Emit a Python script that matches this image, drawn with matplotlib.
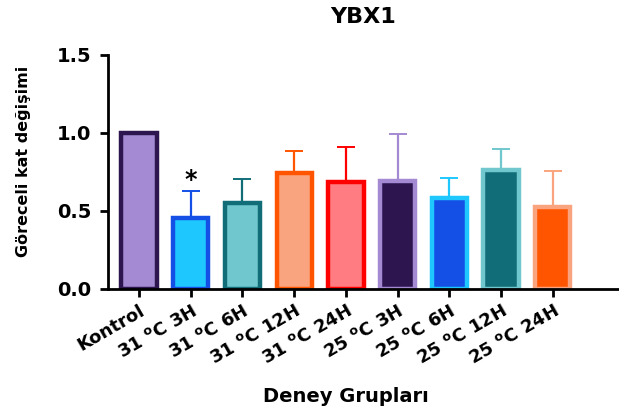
import numpy as np
import matplotlib
matplotlib.use("Agg")
import matplotlib.pyplot as plt

plt.rcParams['font.family'] = ['DejaVu Sans']
plt.rcParams['mathtext.fontset'] = 'dejavusans'

# Veriler
gruplar = ['Kontrol', r'31 $^{\mathbf{o}}$C 3H', r'31 $^{\mathbf{o}}$C 6H', r'31 $^{\mathbf{o}}$C 12H',
           r'31 $^{\mathbf{o}}$C 24H', r'25 $^{\mathbf{o}}$C 3H', r'25 $^{\mathbf{o}}$C 6H',
           r'25 $^{\mathbf{o}}$C 12H', r'25 $^{\mathbf{o}}$C 24H']
ortalama = [1.0, 0.453, 0.553, 0.746, 0.684, 0.694, 0.581, 0.765, 0.526]
hata = [0.005, 0.175, 0.154, 0.137, 0.228, 0.302, 0.133, 0.134, 0.230]
dolgu = ['#A48AD2', '#1EC8FF', '#70C7CD', '#F9A47E', '#FF7C82',
         '#2D1650', '#1450E6', '#116E78', '#FF5500']
kenar = ['#2D1650', '#1450E6', '#116E78', '#FF5500', '#FF0000',
         '#A48AD2', '#1EC8FF', '#70C7CD', '#F9A47E']

x = np.arange(len(gruplar))

fig = plt.figure(figsize=(6.19, 4.07), dpi=100)
ax = fig.add_axes([0.1745, 0.29, 0.8255, 0.575])

for i in range(len(x)):
    ax.errorbar(x[i], ortalama[i], yerr=[[0], [hata[i]]], fmt='none',
                ecolor=kenar[i], elinewidth=1.6, capsize=6.5, capthick=1.4, zorder=1)
    ax.bar(x[i], ortalama[i], width=0.68, color=dolgu[i], edgecolor=kenar[i],
           linewidth=3.2, zorder=2)

# anlamlılık
ax.text(x[1], ortalama[1] + hata[1] - 0.005, '*', ha='center', va='bottom',
        fontsize=17, fontweight='bold')

ax.set_xlim(-0.6, 9.28)
ax.set_ylim(0, 1.5)
ax.set_yticks([0, 0.5, 1.0, 1.5])
ax.set_yticklabels(['0.0', '0.5', '1.0', '1.5'], fontsize=14, fontweight='bold')
ax.set_xticks(x)
ax.set_xticklabels(gruplar, rotation=30, ha='right', rotation_mode='anchor',
                   fontsize=13, fontweight='bold')

ax.spines['top'].set_visible(False)
ax.spines['right'].set_visible(False)
ax.spines['left'].set_linewidth(2)
ax.spines['bottom'].set_linewidth(2)
ax.tick_params(axis='both', width=2, length=6)
ax.tick_params(axis='y', pad=6)

ax.set_ylabel('Göreceli kat değişimi', fontsize=11.5, fontweight='bold')
ax.yaxis.set_label_coords(-0.15, 0.547)
ax.set_xlabel('Deney Grupları', fontsize=14, fontweight='bold')
ax.xaxis.set_label_coords(0.466, -0.42)
ax.set_title('YBX1', fontsize=16, fontweight='bold', pad=23)

fig.savefig('out.png', dpi=100)
